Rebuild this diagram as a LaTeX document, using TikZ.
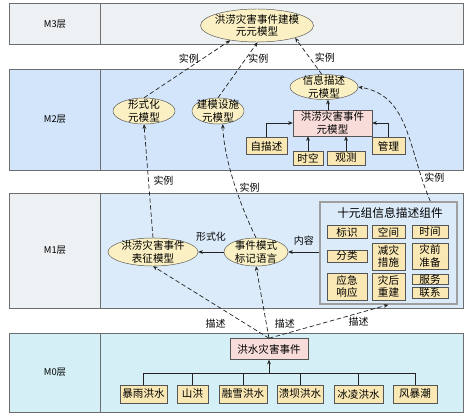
\documentclass[tikz,border=0pt]{standalone}
\usepackage{fontspec}
\newfontfamily\cjk{Noto Sans CJK SC}
\usetikzlibrary{arrows.meta,shapes.geometric,shadows}
\definecolor{cellgray}{HTML}{EEF1F3}
\definecolor{mtwoblue}{HTML}{D3E5FA}
\definecolor{moneblue}{HTML}{DCEBF9}
\definecolor{mzerocyan}{HTML}{D4F0F6}
\definecolor{ellfill}{HTML}{FBF0C3}
\definecolor{boxfill}{HTML}{FAE8B4}
\definecolor{pinkfill}{HTML}{F8DCDA}
\definecolor{nodeline}{HTML}{555555}
\definecolor{layerline}{HTML}{6E6E6E}
\definecolor{linecol}{HTML}{222222}
\def\px{0.03cm}
\begin{document}
\begin{tikzpicture}[
  x=\px, y=-\px,
  font=\cjk\fontsize{9pt}{10.5pt}\selectfont,
  layer/.style={draw=layerline, line width=0.6pt},
  layertxt/.style={font=\cjk\fontsize{8pt}{9pt}\selectfont},
  ell/.style={ellipse, draw=nodeline, fill=ellfill, inner sep=-5pt, align=center},
  ybox/.style={draw=nodeline, fill=boxfill, inner sep=0pt, align=center,
    drop shadow={shadow xshift=0.7pt, shadow yshift=-0.7pt, opacity=0.35}},
  pbox/.style={draw=nodeline, fill=pinkfill, inner sep=0pt, align=center,
    drop shadow={shadow xshift=0.7pt, shadow yshift=-0.7pt, opacity=0.35}},
  arrow/.style={-{Stealth[length=4pt, width=3.2pt]}, line width=0.6pt, draw=linecol},
  dasharrow/.style={arrow, dash pattern=on 3.8pt off 2.2pt},
  lbl/.style={inner sep=1pt, font=\cjk\fontsize{8.5pt}{10pt}\selectfont}
]
\useasboundingbox (0,0) rectangle (474,419);
% layers
\filldraw[layer, fill=cellgray] (9,3) rectangle (100,44);
\filldraw[layer, fill=cellgray] (100,3) rectangle (463,44);
\filldraw[layer, fill=mtwoblue] (9,69) rectangle (100,170);
\filldraw[layer, fill=mtwoblue] (100,69) rectangle (463,170);
\filldraw[layer, fill=cellgray] (9,193) rectangle (100,308);
\filldraw[layer, fill=moneblue] (100,193) rectangle (463,308);
\filldraw[layer, fill=mzerocyan] (9,333) rectangle (100,412);
\filldraw[layer, fill=mzerocyan] (100,333) rectangle (463,412);
\node[layertxt] (lthree) at (55,24) {M3层};
\node[layertxt] (ltwo) at (55,119.5) {M2层};
\node[layertxt] (lone) at (55,250.5) {M1层};
\node[layertxt] (lzero) at (55,372.5) {M0层};
% M3
\node[ell, minimum width=113*\px, minimum height=33*\px] (m3) at (257,25.5) {洪涝灾害事件建模\\元元模型};
% M2
\node[ell, minimum width=62*\px, minimum height=26*\px] (fm) at (144,111) {形式化\\元模型};
\node[ell, minimum width=52*\px, minimum height=26*\px] (jm) at (218,111) {建模设施\\元模型};
\node[ell, minimum width=68*\px, minimum height=25*\px] (xm) at (324,87) {信息描述\\元模型};
\node[pbox, minimum width=79*\px, minimum height=26*\px] (em) at (332.5,123) {洪涝灾害事件\\元模型};
\node[ybox, minimum width=41*\px, minimum height=17*\px] (zms) at (266.5,146) {自描述};
\node[ybox, minimum width=30*\px, minimum height=14*\px] (sk) at (308,158) {时空};
\node[ybox, minimum width=38*\px, minimum height=14*\px] (gc) at (346,158) {观测};
\node[ybox, minimum width=33*\px, minimum height=17*\px] (gl) at (388.5,146) {管理};
\draw[arrow] (zms.north) |- (em.west);
\draw[arrow] (gl.north) |- (em.east);
\draw[arrow] (sk.north) -- (sk.north |- em.south);
\draw[arrow] (gc.north) -- (gc.north |- em.south);
\draw[arrow] ([xshift=-4.5*\px]em.north) -- ([xshift=4*\px]xm.south);
% M1
\node[ell, minimum width=90*\px, minimum height=28*\px] (bz) at (153,252) {洪涝灾害事件\\表征模型};
\node[ell, minimum width=64*\px, minimum height=28*\px] (bj) at (256,252) {事件模式\\标记语言};
\node[draw=gray!75, line width=1.2pt, minimum width=137*\px, minimum height=102*\px, inner sep=0pt] (ten) at (388.5,253) {};
\node[font=\cjk\fontsize{10pt}{11pt}\selectfont] (tentitle) at (390,213) {十元组信息描述组件};
\node[ybox, minimum width=40*\px, minimum height=13*\px] (bs) at (347,232) {标识};
\node[ybox, minimum width=33*\px, minimum height=13*\px] (kj) at (388.5,232) {空间};
\node[ybox, minimum width=36*\px, minimum height=13*\px] (sj) at (430,232) {时间};
\node[ybox, minimum width=40*\px, minimum height=12*\px] (fl) at (347,256) {分类};
\node[ybox, minimum width=33*\px, minimum height=27*\px] (jz) at (388.5,256.5) {减灾\\措施};
\node[ybox, minimum width=36*\px, minimum height=26*\px] (zq) at (430,256) {灾前\\准备};
\node[ybox, minimum width=40*\px, minimum height=27*\px] (yj) at (347,286.5) {应急\\响应};
\node[ybox, minimum width=33*\px, minimum height=27*\px] (zh) at (388.5,286.5) {灾后\\重建};
\node[ybox, minimum width=36*\px, minimum height=10*\px] (fw) at (430,279) {服务};
\node[ybox, minimum width=36*\px, minimum height=11*\px] (lx) at (430,293) {联系};
\draw[arrow] (bj.west) -- (bz.east) node[lbl, midway, above=8pt] {形式化};
\draw[arrow] (ten.west |- bj.east) -- (bj.east) node[lbl, midway, above=4pt] {内容};
% M0
\node[pbox, minimum width=78*\px, minimum height=21*\px] (hs) at (269,349) {洪水灾害事件};
\node[ybox, minimum width=47*\px, minimum height=18*\px] (by) at (143.5,394) {暴雨洪水};
\node[ybox, minimum width=31*\px, minimum height=18*\px] (sh) at (192.5,394) {山洪};
\node[ybox, minimum width=48*\px, minimum height=18*\px] (rx) at (243,394) {融雪洪水};
\node[ybox, minimum width=46*\px, minimum height=18*\px] (kb) at (300,394) {溃坝洪水};
\node[ybox, minimum width=49*\px, minimum height=18*\px] (bl) at (358.5,394) {冰凌洪水};
\node[ybox, minimum width=44*\px, minimum height=18*\px] (fb) at (415,394) {风暴潮};
\coordinate (bar) at (269,373);
\draw[line width=0.6pt, draw=linecol] (by.north) -- (by.north |- bar) -- (fb.north |- bar) -- (fb.north);
\foreach \b in {sh,rx,kb,bl}
  \draw[line width=0.6pt, draw=linecol] (\b.north) -- (\b.north |- bar);
\draw[arrow] (bar) -- (hs.south);
% instance links
\draw[dasharrow] (fm.north) -- (m3.209) node[lbl, pos=0.68, left=2pt] {实例};
\draw[dasharrow] (jm.north) -- (m3.272) node[lbl, pos=0.7, right=1pt] {实例};
\draw[dasharrow] (xm.100) -- (m3.342) node[lbl, pos=0.45, right=3pt] {实例};
\draw[dasharrow] (bz.north) -- (fm.south) node[lbl, pos=0.5, right=3pt] {实例};
\draw[dasharrow] (bj.north) .. controls (240,205) and (224,160) .. (jm.290) node[lbl, pos=0.45, right=2pt] {实例};
\draw[dasharrow] (ten.51) .. controls (408,150) and (410,95) .. (xm.east) node[lbl, pos=0.15, right=1pt] {实例};
% description links
\draw[dasharrow] (hs.north) -- (bz.south) node[lbl, pos=0.2, left=16pt] {描述};
\draw[dasharrow] (hs.north) -- (bj.south) node[lbl, pos=0.2, right=6pt] {描述};
\draw[dasharrow] (hs.north) -- (ten.south) node[lbl, pos=0.75, below=2pt] {描述};
\end{tikzpicture}
\end{document}
